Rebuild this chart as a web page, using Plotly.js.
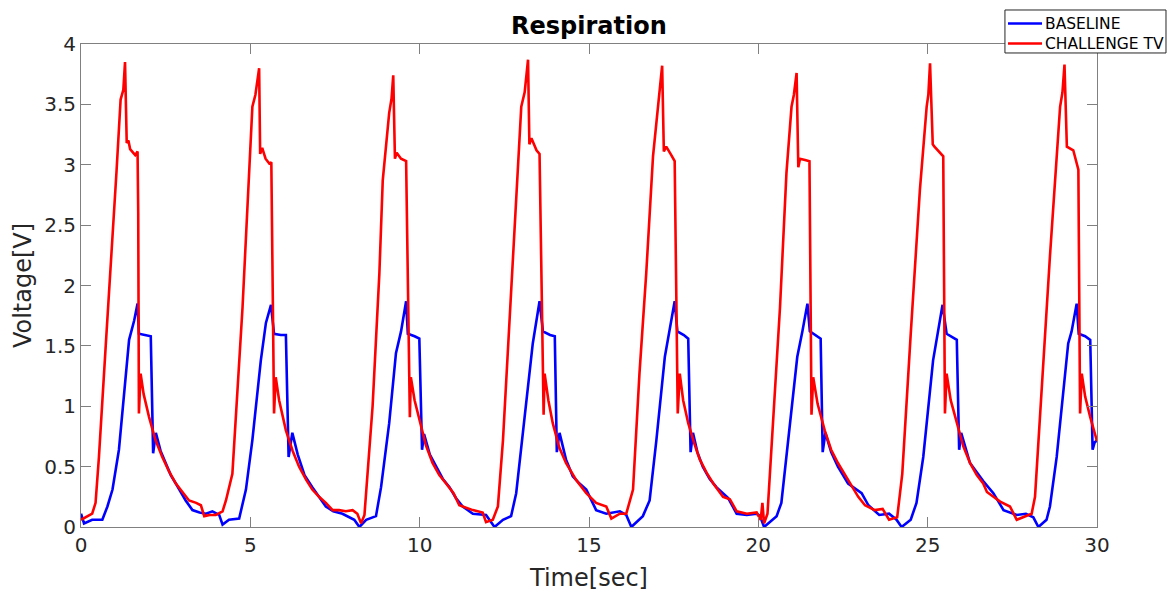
<!DOCTYPE html>
<html>
<head>
<meta charset="utf-8">
<script src="https://cdn.plot.ly/plotly-3.0.1.min.js"></script>
<style>html,body{margin:0;padding:0;background:#fff;}#chart{width:1174px;height:592px;}</style>
</head>
<body>
<div id="chart"></div>
<script>
// Time axis [sec] and voltage [V]
const baselineTime = [0.00,0.09,0.33,0.63,0.78,0.93,1.12,1.32,1.42,1.57,1.67,1.71,1.90,2.06,2.13,2.21,2.35,2.50,2.65,2.80,3.09,3.29,3.50,3.69,3.88,4.08,4.18,4.37,4.67,4.87,5.06,5.31,5.46,5.61,5.70,5.90,6.05,6.13,6.24,6.40,6.60,6.83,7.03,7.23,7.45,7.72,8.07,8.22,8.42,8.71,8.86,9.10,9.30,9.45,9.60,9.65,9.85,9.99,10.07,10.13,10.30,10.48,10.68,10.88,11.07,11.27,11.57,11.96,12.21,12.46,12.70,12.85,13.14,13.34,13.54,13.64,13.85,13.99,14.05,14.13,14.32,14.52,14.72,14.92,15.21,15.51,15.91,16.10,16.25,16.59,16.79,16.99,17.24,17.38,17.53,17.61,17.80,17.93,18.00,18.07,18.20,18.36,18.56,18.76,19.11,19.36,19.66,19.95,20.05,20.17,20.54,20.68,20.93,21.15,21.30,21.45,21.52,21.70,21.84,21.90,21.98,22.15,22.35,22.65,23.05,23.25,23.57,23.86,24.08,24.23,24.50,24.67,24.87,25.16,25.31,25.44,25.56,25.75,25.86,25.93,25.99,26.25,26.64,26.94,27.24,27.63,27.90,28.12,28.27,28.51,28.61,28.81,29.15,29.25,29.40,29.46,29.65,29.80,29.87,29.93,30.00];
const baselineVolt = [0.11,0.03,0.06,0.06,0.17,0.31,0.64,1.27,1.55,1.71,1.85,1.60,1.59,1.58,0.61,0.78,0.63,0.53,0.43,0.36,0.22,0.14,0.12,0.11,0.13,0.10,0.02,0.06,0.07,0.31,0.72,1.38,1.69,1.84,1.60,1.59,1.59,0.58,0.78,0.60,0.43,0.33,0.25,0.17,0.13,0.11,0.06,0.00,0.06,0.09,0.33,0.86,1.44,1.62,1.87,1.60,1.58,1.56,0.64,0.77,0.60,0.50,0.40,0.33,0.24,0.17,0.11,0.10,0.00,0.06,0.09,0.28,1.00,1.52,1.87,1.62,1.59,1.58,0.62,0.78,0.56,0.42,0.36,0.31,0.14,0.11,0.13,0.10,0.00,0.09,0.22,0.72,1.41,1.62,1.87,1.62,1.59,1.56,0.62,0.78,0.62,0.50,0.40,0.33,0.24,0.11,0.10,0.11,0.09,0.00,0.09,0.20,0.86,1.41,1.62,1.85,1.62,1.59,1.56,0.62,0.78,0.62,0.50,0.36,0.28,0.18,0.10,0.11,0.06,0.00,0.06,0.20,0.58,1.38,1.62,1.84,1.60,1.57,1.55,0.64,0.78,0.53,0.38,0.28,0.14,0.10,0.11,0.08,0.00,0.06,0.17,0.58,1.52,1.62,1.85,1.60,1.58,1.55,0.64,0.70,0.72];

const challengeTime = [0.00,0.15,0.33,0.43,0.53,0.73,0.93,1.05,1.17,1.25,1.30,1.35,1.40,1.45,1.60,1.67,1.69,1.71,1.76,1.85,2.01,2.20,2.40,2.60,2.80,3.00,3.19,3.40,3.54,3.64,3.80,3.98,4.18,4.28,4.47,4.77,5.06,5.15,5.26,5.29,5.35,5.45,5.56,5.62,5.70,5.75,5.85,6.05,6.25,6.44,6.65,6.83,7.03,7.23,7.43,7.62,7.82,8.02,8.16,8.27,8.37,8.61,8.81,8.91,9.10,9.17,9.22,9.27,9.32,9.45,9.60,9.71,9.74,9.85,9.99,10.18,10.38,10.58,10.78,11.00,11.17,11.37,11.57,11.86,11.96,12.16,12.31,12.46,12.75,13.00,13.10,13.20,13.24,13.30,13.45,13.54,13.66,13.69,13.80,13.93,14.12,14.32,14.62,14.92,15.21,15.51,15.66,15.91,16.10,16.20,16.30,16.49,16.69,16.89,17.04,17.10,17.16,17.21,17.28,17.43,17.53,17.62,17.68,17.78,17.93,18.10,18.27,18.47,18.67,18.96,19.16,19.36,19.66,19.95,20.07,20.12,20.17,20.27,20.44,20.64,20.83,20.98,21.05,21.13,21.18,21.23,21.38,21.51,21.57,21.62,21.75,21.96,22.15,22.35,22.65,22.95,23.15,23.44,23.67,23.86,24.10,24.15,24.25,24.50,24.77,24.97,25.02,25.07,25.15,25.20,25.35,25.46,25.51,25.56,25.68,25.86,26.05,26.25,26.45,26.64,26.75,27.14,27.43,27.63,27.83,28.07,28.17,28.40,28.61,28.91,28.98,29.04,29.11,29.30,29.45,29.50,29.55,29.65,29.80,30.00];
const challengeVolt = [0.06,0.08,0.11,0.20,0.58,1.50,2.38,2.95,3.54,3.62,3.85,3.18,3.20,3.13,3.08,3.11,2.60,0.94,1.27,1.10,0.91,0.72,0.58,0.46,0.36,0.29,0.22,0.20,0.18,0.09,0.10,0.10,0.13,0.22,0.44,1.82,3.48,3.58,3.80,3.09,3.14,3.05,3.01,3.02,0.94,1.24,1.05,0.80,0.63,0.50,0.39,0.31,0.25,0.20,0.14,0.14,0.13,0.14,0.11,0.03,0.10,1.00,2.10,2.87,3.43,3.55,3.74,3.05,3.10,3.05,3.03,0.91,1.24,1.05,0.89,0.68,0.53,0.43,0.36,0.28,0.18,0.16,0.14,0.12,0.04,0.06,0.17,0.72,2.24,3.48,3.60,3.87,3.17,3.22,3.12,3.09,0.93,1.27,1.05,0.86,0.66,0.53,0.39,0.28,0.20,0.17,0.07,0.11,0.11,0.20,0.31,1.27,2.10,3.07,3.48,3.60,3.82,3.11,3.15,3.08,3.03,0.94,1.27,1.05,0.86,0.70,0.56,0.45,0.36,0.25,0.23,0.13,0.11,0.12,0.06,0.20,0.03,0.11,0.86,1.82,2.93,3.48,3.58,3.76,2.98,3.05,3.04,3.03,0.93,1.24,1.02,0.80,0.64,0.53,0.39,0.25,0.18,0.14,0.15,0.06,0.08,0.22,0.44,1.60,2.79,3.48,3.58,3.84,3.17,3.15,3.10,3.07,0.94,1.27,1.05,0.86,0.67,0.53,0.43,0.36,0.29,0.21,0.17,0.06,0.08,0.11,0.25,1.30,2.24,3.48,3.60,3.83,3.15,3.12,2.96,0.94,1.27,1.08,0.91,0.71];

const seriesNames = ['BASELINE', 'CHALLENGE TV'];
const seriesColors = ['#0000ff', '#ff0000'];
const xTickVals = [0, 5, 10, 15, 20, 25, 30];
const yTickVals = [0, 0.5, 1, 1.5, 2, 2.5, 3, 3.5, 4];
const yTickText = ['0', '0.5', '1', '1.5', '2', '2.5', '3', '3.5', '4'];

const FONT = 'DejaVu Sans, Liberation Sans, sans-serif';
const AXIS_LINE = '#808080';
const TEXT = '#262626';

const traces = [
  {x: baselineTime, y: baselineVolt, type: 'scatter', mode: 'lines', name: seriesNames[0],
   line: {color: seriesColors[0], width: 2.6}, showlegend: false},
  {x: challengeTime, y: challengeVolt, type: 'scatter', mode: 'lines', name: seriesNames[1],
   line: {color: seriesColors[1], width: 2.6}, showlegend: false}
];

const axisCommon = {
  showgrid: false, zeroline: false, showline: true, linecolor: AXIS_LINE, linewidth: 1,
  mirror: 'ticks', ticks: 'inside', ticklen: 10, tickcolor: AXIS_LINE, tickwidth: 1,
  tickfont: {family: FONT, size: 20, color: TEXT}
};

// Legend box drawn in paper coordinates (outside top-right corner of the axes)
const legBox = {x0: 0.9094, x1: 1.0679, y0: 0.9814, y1: 1.0704};
const legRowsY = [1.0424, 1.0010];
const legLineX = [0.9124, 0.9459];
const legTextX = 0.9468;

const shapes = [
  {type: 'rect', xref: 'paper', yref: 'paper', x0: legBox.x0, x1: legBox.x1, y0: legBox.y0, y1: legBox.y1,
   line: {color: '#262626', width: 1}, fillcolor: '#ffffff', layer: 'above'}
];
const annotations = [];
seriesNames.forEach((name, i) => {
  shapes.push({type: 'line', xref: 'paper', yref: 'paper', x0: legLineX[0], x1: legLineX[1],
               y0: legRowsY[i], y1: legRowsY[i], line: {color: seriesColors[i], width: 2.6}, layer: 'above'});
  annotations.push({xref: 'paper', yref: 'paper', x: legTextX, y: legRowsY[i], xanchor: 'left', yanchor: 'middle',
                    text: name, showarrow: false, font: {family: FONT, size: 15.5, color: '#000000'}});
});

const layout = {
  width: 1174, height: 592,
  margin: {l: 81, r: 77, t: 44, b: 65, pad: 0},
  paper_bgcolor: '#ffffff', plot_bgcolor: '#ffffff',
  title: {text: 'Respiration', font: {family: FONT, size: 24, color: '#000000', weight: 'bold'},
          x: 0.5016, xanchor: 'center', y: 0.957, yanchor: 'middle'},
  xaxis: Object.assign({}, axisCommon, {
    range: [0, 30], tickvals: xTickVals, ticktext: xTickVals.map(String),
    title: {text: 'Time[sec]', font: {family: FONT, size: 24, color: TEXT}, standoff: 13}
  }),
  yaxis: Object.assign({}, axisCommon, {
    range: [0, 4], tickvals: yTickVals, ticktext: yTickText,
    title: {text: 'Voltage[V]', font: {family: FONT, size: 24, color: TEXT}, standoff: 5}
  }),
  shapes: shapes,
  annotations: annotations,
  showlegend: false
};

Plotly.newPlot('chart', traces, layout, {displayModeBar: false, staticPlot: true});
</script>
</body>
</html>
